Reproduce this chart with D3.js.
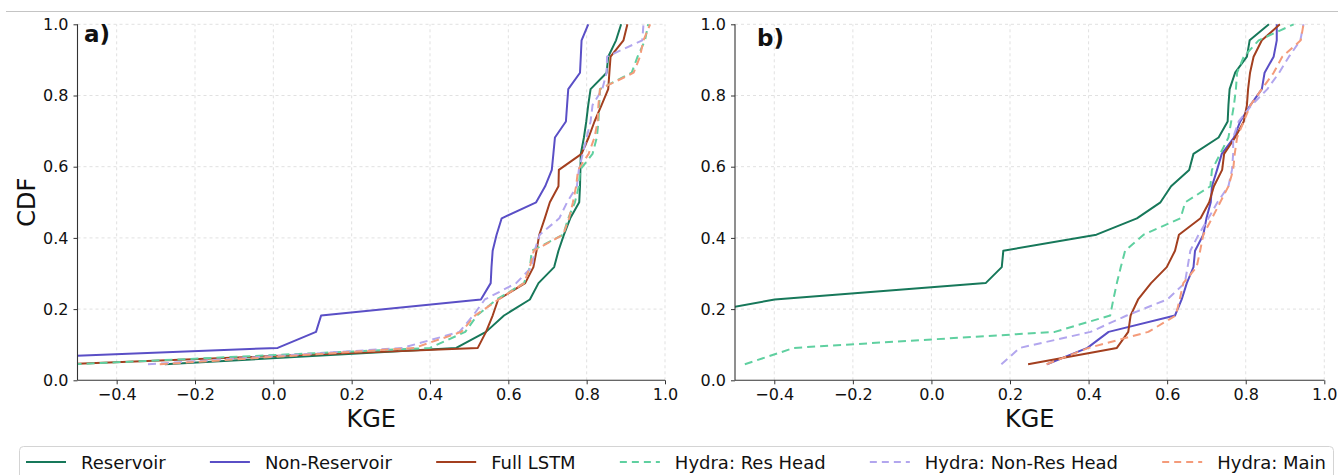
<!DOCTYPE html>
<html>
<head>
<meta charset="utf-8">
<script src="https://cdn.jsdelivr.net/npm/d3@7"></script>
<style>
  body { margin: 0; background: #fff; }
  svg { display: block; font-family: "DejaVu Sans", sans-serif; }
</style>
</head>
<body>
<svg width="1338" height="475"></svg>
<script>
// CDF levels (k / 22 basins)
const cdf = [0.045, 0.091, 0.136, 0.182, 0.227, 0.273, 0.318, 0.364, 0.409, 0.455, 0.5,
             0.545, 0.591, 0.636, 0.682, 0.727, 0.773, 0.818, 0.864, 0.909, 0.955, 1.0];

// Panel a) sorted KGE per model
const resA      = [-0.277, 0.467, 0.543, 0.589, 0.655, 0.677, 0.717, 0.728, 0.742, 0.758, 0.781,
                   0.783, 0.784, 0.785, 0.793, 0.799, 0.804, 0.81, 0.851, 0.855, 0.875, 0.888];
const nonResA   = [-1.05, 0.011, 0.109, 0.122, 0.53, 0.555, 0.557, 0.56, 0.57, 0.583, 0.671,
                   0.694, 0.711, 0.715, 0.719, 0.747, 0.75, 0.753, 0.783, 0.785, 0.787, 0.804];
const fullA     = [-0.53, 0.522, 0.543, 0.56, 0.574, 0.643, 0.664, 0.672, 0.679, 0.693, 0.706,
                   0.728, 0.729, 0.787, 0.805, 0.82, 0.838, 0.855, 0.858, 0.861, 0.894, 0.904];
const hResA     = [-0.51, 0.40, 0.49, 0.52, 0.57, 0.64, 0.655, 0.66, 0.74, 0.753, 0.77,
                   0.78, 0.783, 0.815, 0.826, 0.83, 0.832, 0.834, 0.915, 0.93, 0.949, 0.957];
const hNonResA  = [-0.32, 0.33, 0.475, 0.51, 0.54, 0.62, 0.66, 0.667, 0.68, 0.73, 0.75,
                   0.775, 0.78, 0.79, 0.80, 0.81, 0.815, 0.84, 0.851, 0.852, 0.942, 0.945];
const hMainA    = [-0.29, 0.36, 0.48, 0.515, 0.575, 0.64, 0.655, 0.665, 0.74, 0.755, 0.765,
                   0.773, 0.778, 0.805, 0.82, 0.828, 0.83, 0.834, 0.92, 0.936, 0.945, 0.962];

// Panel b)
const resB      = [-1.5, -1.0, -0.8, -0.62, -0.399, 0.138, 0.179, 0.183, 0.42, 0.523, 0.583,
                   0.61, 0.656, 0.667, 0.731, 0.754, 0.756, 0.759, 0.773, 0.803, 0.81, 0.859];
const nonResB   = [0.294, 0.397, 0.451, 0.62, 0.637, 0.65, 0.667, 0.671, 0.692, 0.70, 0.711,
                   0.714, 0.727, 0.739, 0.77, 0.786, 0.812, 0.841, 0.848, 0.871, 0.879, 0.879];
const fullB     = [0.246, 0.472, 0.501, 0.507, 0.526, 0.559, 0.599, 0.62, 0.63, 0.685, 0.707,
                   0.719, 0.74, 0.745, 0.773, 0.795, 0.803, 0.806, 0.811, 0.82, 0.841, 0.887];
const hResB     = [-0.475, -0.35, 0.314, 0.455, 0.463, 0.472, 0.482, 0.493, 0.54, 0.634, 0.646,
                   0.71, 0.714, 0.735, 0.756, 0.763, 0.77, 0.775, 0.778, 0.795, 0.833, 0.922];
const hNonResB  = [0.178, 0.225, 0.405, 0.497, 0.60, 0.645, 0.652, 0.659, 0.68, 0.705, 0.728,
                   0.756, 0.765, 0.768, 0.768, 0.782, 0.815, 0.855, 0.885, 0.91, 0.939, 0.947];
const hMainB    = [0.293, 0.40, 0.552, 0.622, 0.632, 0.641, 0.675, 0.684, 0.692, 0.714, 0.735,
                   0.756, 0.768, 0.772, 0.778, 0.795, 0.812, 0.841, 0.871, 0.893, 0.94, 0.947];

const seriesNames = ["Reservoir", "Non-Reservoir", "Full LSTM",
                     "Hydra: Res Head", "Hydra: Non-Res Head", "Hydra: Main"];
const colors = ["#17785a", "#5a4fc6", "#a33f1f", "#5fd0a0", "#b2a6ee", "#f49b7a"];
const dashed = [false, false, false, true, true, true];

const xTicks = [-0.4, -0.2, 0.0, 0.2, 0.4, 0.6, 0.8, 1.0];
const yTicks = [0.0, 0.2, 0.4, 0.6, 0.8, 1.0];

const svg = d3.select("svg");

// thin rule at the top of the figure
svg.append("line")
  .attr("x1", 6).attr("x2", 1338).attr("y1", 11.5).attr("y2", 11.5)
  .attr("stroke", "#c4c4c4").attr("stroke-width", 1);

const yScale = d3.scaleLinear().domain([0, 1]).range([380.3, 24.3]);

const panels = [
  { x0: 77.5, x1: 665, label: "a)", lx: 84, ly: 42, data: [resA, nonResA, fullA, hResA, hNonResA, hMainA] },
  { x0: 735, x1: 1324.3, label: "b)", lx: 757, ly: 46, data: [resB, nonResB, fullB, hResB, hNonResB, hMainB] }
];

panels.forEach((p, pi) => {
  const xScale = d3.scaleLinear().domain([-0.5, 1.0]).range([p.x0, p.x1]);
  const g = svg.append("g");

  // grid
  g.append("g").selectAll("line").data(xTicks).join("line")
    .attr("x1", d => xScale(d)).attr("x2", d => xScale(d))
    .attr("y1", yScale(0)).attr("y2", yScale(1))
    .attr("stroke", "#dedede").attr("stroke-dasharray", "3,3").attr("stroke-width", 0.9);
  g.append("g").selectAll("line").data(yTicks.slice(1)).join("line")
    .attr("x1", p.x0).attr("x2", p.x1)
    .attr("y1", d => yScale(d)).attr("y2", d => yScale(d))
    .attr("stroke", "#dedede").attr("stroke-dasharray", "3,3").attr("stroke-width", 0.9);

  // clip
  const clipId = "clip" + pi;
  svg.append("clipPath").attr("id", clipId).append("rect")
    .attr("x", p.x0).attr("y", yScale(1) - 2)
    .attr("width", p.x1 - p.x0 + 2).attr("height", yScale(0) - yScale(1) + 2);

  const line = d3.line().x(d => xScale(d[0])).y(d => yScale(d[1]));
  const lines = g.append("g").attr("clip-path", `url(#${clipId})`);
  p.data.forEach((vals, si) => {
    lines.append("path")
      .datum(vals.map((v, i) => [v, cdf[i]]))
      .attr("fill", "none")
      .attr("stroke", colors[si])
      .attr("stroke-width", 2)
      .attr("stroke-linejoin", "round")
      .attr("stroke-dasharray", dashed[si] ? "8,5" : null)
      .attr("d", line);
  });

  // axes
  const ax = g.append("g").attr("transform", `translate(0,${yScale(0)})`)
    .call(d3.axisBottom(xScale).tickValues(xTicks).tickFormat(d3.format(".1f")).tickSize(4).tickPadding(4));
  const ay = g.append("g").attr("transform", `translate(${p.x0},0)`)
    .call(d3.axisLeft(yScale).tickValues(yTicks).tickFormat(d3.format(".1f")).tickSize(4).tickPadding(5));
  [ax, ay].forEach(a => {
    a.select(".domain").attr("stroke", "#333").attr("stroke-width", 1.1);
    a.selectAll(".tick line").attr("stroke", "#333");
    a.selectAll(".tick text").attr("fill", "#111")
      .style("font-size", "16px").style("font-family", "DejaVu Sans");
  });
  ax.select(".domain").attr("d", `M${p.x0},0H${p.x1}`);
  ay.select(".domain").attr("d", `M0,${yScale(0)}V${yScale(1)}`);

  // labels
  g.append("text").attr("x", (p.x0 + p.x1) / 2).attr("y", 427)
    .attr("text-anchor", "middle").style("font-size", "24px").attr("fill", "#111").text("KGE");
  g.append("text").attr("x", p.lx).attr("y", p.ly)
    .style("font-size", "23px").style("font-weight", "bold").attr("fill", "#111").text(p.label);
});

svg.append("text")
  .attr("transform", `translate(35,${(yScale(0) + yScale(1)) / 2}) rotate(-90)`)
  .attr("text-anchor", "middle").style("font-size", "24px").attr("fill", "#111").text("CDF");

// legend, one row spread across the width
const legend = svg.append("g");
legend.append("rect")
  .attr("x", 19.5).attr("y", 446.5).attr("width", 1314).attr("height", 40).attr("rx", 4)
  .attr("fill", "#fff").attr("stroke", "#d4d4d4").attr("stroke-width", 1);

const items = legend.selectAll("g.item").data(seriesNames).join("g").attr("class", "item");
items.append("text")
  .attr("y", 468.5).style("font-size", "18px").attr("fill", "#111")
  .text(d => d);

const handleW = 40, handleGap = 15;
const textW = [];
items.select("text").each(function () { textW.push(this.getComputedTextLength()); });
const startX = 26, endX = 1326;
const used = d3.sum(textW) + seriesNames.length * (handleW + handleGap);
const colGap = (endX - startX - used) / (seriesNames.length - 1);
let cx = startX;
items.each(function (d, i) {
  const it = d3.select(this);
  it.append("line")
    .attr("x1", cx).attr("x2", cx + handleW).attr("y1", 462).attr("y2", 462)
    .attr("stroke", colors[i]).attr("stroke-width", 2.2)
    .attr("stroke-dasharray", dashed[i] ? "7,5" : null);
  it.select("text").attr("x", cx + handleW + handleGap);
  cx += handleW + handleGap + textW[i] + colGap;
});
</script>
</body>
</html>
